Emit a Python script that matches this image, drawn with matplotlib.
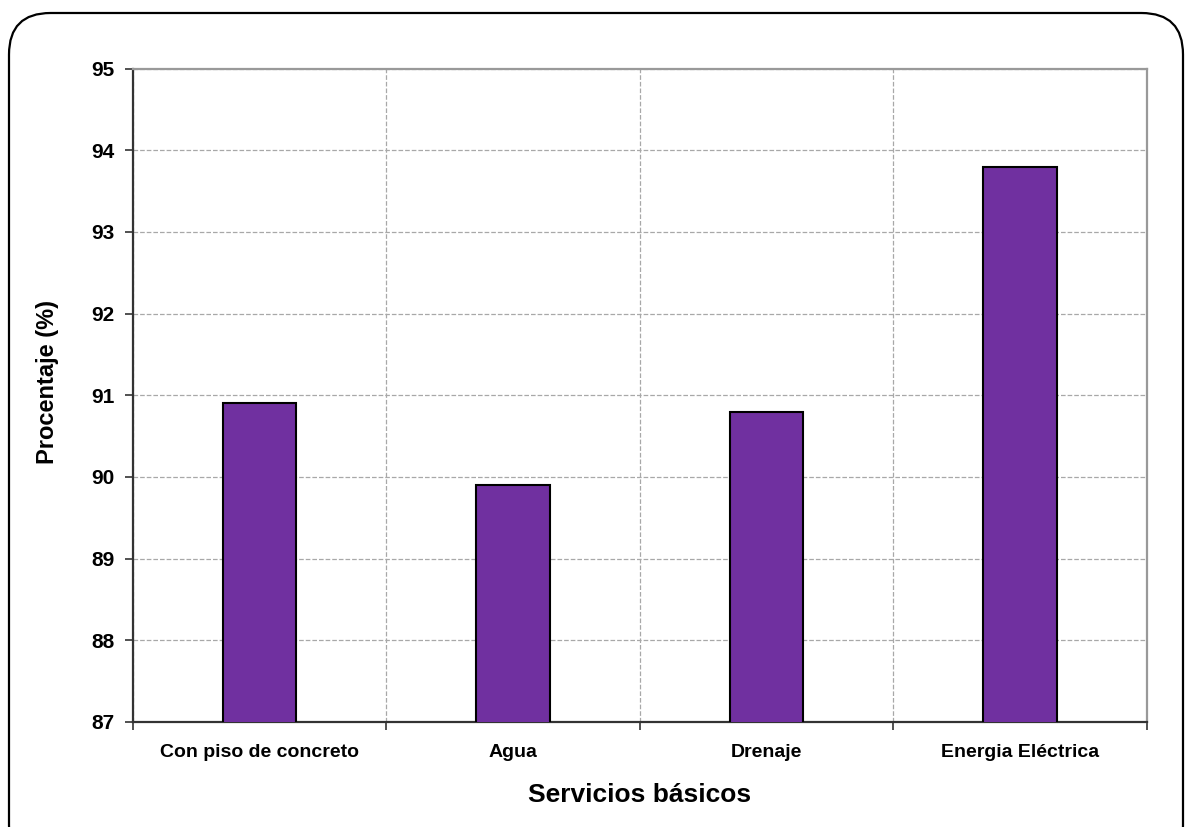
import numpy as np
import matplotlib
matplotlib.use('Agg')
import matplotlib.pyplot as plt
from matplotlib.patches import FancyBboxPatch

# Data
categorias = ['Con piso de concreto', 'Agua', 'Drenaje', 'Energia Eléctrica']
porcentajes = [90.9, 89.9, 90.8, 93.8]
y_ticks = [87, 88, 89, 90, 91, 92, 93, 94, 95]

plt.rcParams['font.family'] = ['Liberation Sans', 'DejaVu Sans']

fig = plt.figure(figsize=(11.87, 8.27), dpi=100)
ax = fig.add_axes([0.112, 0.127, 0.854, 0.79])

# rounded outer frame (bottom edge runs off the image)
W, H = 1187, 827
frame = FancyBboxPatch((9 / W, -40 / H), (1183 - 9) / W, (827 - 13 + 40) / H,
                       boxstyle='round,pad=0,rounding_size=0.035',
                       transform=fig.transFigure, fill=False,
                       edgecolor='black', linewidth=1.6, mutation_aspect=W / H)
fig.patches.append(frame)

x = np.arange(len(categorias))
ax.bar(x, porcentajes, width=0.29, color='#7030A0', edgecolor='black',
       linewidth=1.5, zorder=3)

ax.set_xlim(-0.5, len(categorias) - 0.5)
ax.set_ylim(87, 95)
ax.set_yticks(y_ticks)
ax.set_yticklabels([str(v) for v in y_ticks], fontsize=15, fontweight='bold')

ax.set_xticks(x)
ax.set_xticklabels(categorias, fontsize=14, fontweight='bold')
ax.tick_params(axis='x', which='major', length=0, pad=16)
ax.set_xticks(np.arange(-0.5, len(categorias), 1.0), minor=True)
ax.tick_params(axis='x', which='minor', length=6, width=1.2, color='#333333')
ax.tick_params(axis='y', length=6, width=1.2, color='#333333', pad=7)

ax.grid(axis='y', which='major', linestyle='--', color='#a8a8a8', linewidth=0.9, zorder=0)
ax.grid(axis='x', which='minor', linestyle='--', color='#a8a8a8', linewidth=0.9, zorder=0)
ax.grid(axis='x', which='major', visible=False)

for side in ['left', 'bottom']:
    ax.spines[side].set_color('#333333')
    ax.spines[side].set_linewidth(1.6)
for side in ['top', 'right']:
    ax.spines[side].set_color('#999999')
    ax.spines[side].set_linewidth(1.6)

ax.set_ylabel('Procentaje (%)', fontsize=17, fontweight='bold')
ax.yaxis.set_label_coords(-0.073, 0.52)
ax.set_xlabel('Servicios básicos', fontsize=19, fontweight='bold', labelpad=16)

fig.savefig('out.png', dpi=100)
